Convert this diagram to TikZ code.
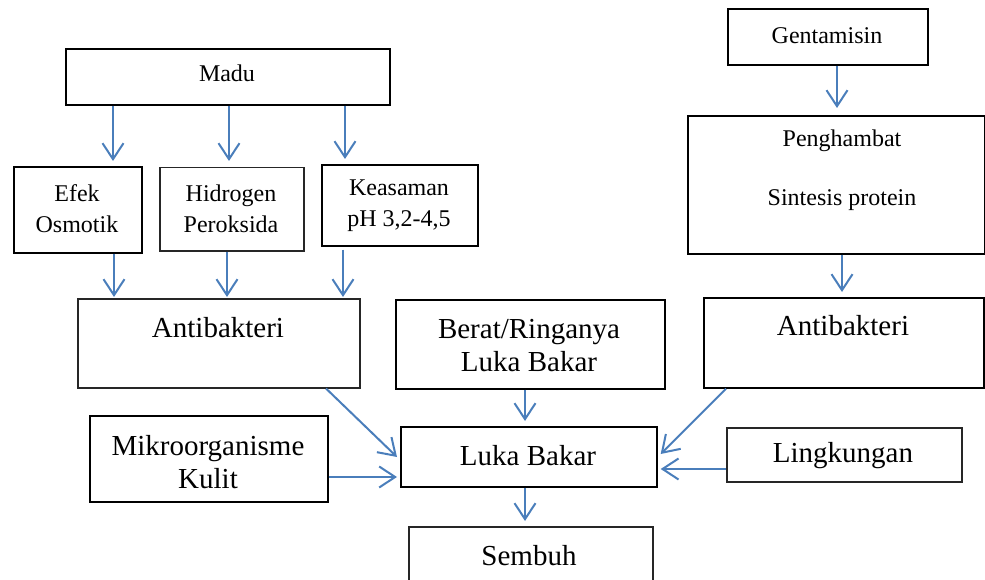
\documentclass[tikz,border=0pt]{standalone}
\usepackage{fontspec}
\setmainfont{Liberation Serif}
\usetikzlibrary{arrows.meta,calc}
\definecolor{arrblue}{HTML}{4A7EBB}
\tikzset{
  box/.style={draw=black,line width=1.7pt,rectangle,inner sep=0pt,anchor=north west},
  greybox/.style={box,draw=black!85,line width=1.5pt},
  small/.style={font=\fontsize{24}{31}\selectfont,align=center,inner sep=0pt},
  large/.style={font=\fontsize{29}{33}\selectfont,align=center,inner sep=0pt},
  arr/.style={draw=arrblue,line width=2pt,-{Straight Barb[length=16pt,width=21pt,line width=2pt]}}
}
\begin{document}
\begin{tikzpicture}[x=1pt,y=-1pt]
\useasboundingbox (0,0) rectangle (985,580);
\clip (0,0) rectangle (985,580);
% boxes
\node[box,minimum width=324pt,minimum height=56pt] (madu) at (65,48) {};
\node[box,minimum width=128pt,minimum height=86pt] (efek) at (13,166) {};
\node[greybox,minimum width=144pt,minimum height=83pt] (hidro) at (159,167) {};
\node[box,minimum width=156pt,minimum height=81pt] (asam) at (321,164) {};
\node[greybox,minimum width=282pt,minimum height=89pt] (antiL) at (77,298) {};
\node[box,minimum width=238pt,minimum height=86pt] (mikro) at (89,415) {};
\node[box,minimum width=269pt,minimum height=89pt] (berat) at (395,299) {};
\node[box,minimum width=256pt,minimum height=60pt] (luka) at (400,426) {};
\node[greybox,minimum width=244pt,minimum height=80pt] (sembuh) at (408,526) {};
\node[box,minimum width=200pt,minimum height=56pt] (genta) at (727,8) {};
\node[box,minimum width=297pt,minimum height=138pt] (hambat) at (687,115) {};
\node[box,minimum width=280pt,minimum height=90pt] (antiR) at (703,297) {};
\node[greybox,minimum width=235pt,minimum height=54pt] (lingk) at (726,427) {};
% texts
\node[small] (tmadu) at (227,73) {Madu};
\node[small] (tefek) at (77,209) {Efek\\Osmotik};
\node[small] (thidro) at (231,209) {Hidrogen\\Peroksida};
\node[small] (tasam) at (399,206) {Keasaman\\pH 3,2-4,5};
\node[small] (tgenta) at (827,36) {Gentamisin};
\node[small] (thambat1) at (842,141) {Penghambat};
\node[small] (thambat2) at (842,200) {Sintesis protein};
\node[large] (tantiL) at (218,328) {Antibakteri};
\node[large] (tantiR) at (843,326) {Antibakteri};
\node[large] (tberat) at (529,346) {Berat/Ringanya\\Luka Bakar};
\node[large] (tluka) at (528,456) {Luka Bakar};
\node[large] (tlingk) at (843,456) {Lingkungan};
\node[large] (tmikro) at (208,462) {Mikroorganisme\\Kulit};
\node[large] (tsembuh) at (529,556) {Sembuh};
% arrow columns
\coordinate (c1) at (113,0);
\coordinate (c2) at (229,0);
\coordinate (c3) at (345,0);
\coordinate (d1) at (114,0);
\coordinate (d2) at (227,0);
\coordinate (d3) at (343,0);
\coordinate (cg) at (837,0);
\coordinate (ch) at (842,0);
\coordinate (cm) at (525,0);
% arrows
\draw[arr] (madu.south -| c1) -- ($(efek.north -| c1)+(0,-5)$);
\draw[arr] (madu.south -| c2) -- ($(hidro.north -| c2)+(0,-6)$);
\draw[arr] (madu.south -| c3) -- ($(asam.north -| c3)+(0,-5)$);
\draw[arr] (efek.south -| d1) -- ($(antiL.north -| d1)+(0,-1)$);
\draw[arr] (hidro.south -| d2) -- ($(antiL.north -| d2)+(0,-1)$);
\draw[arr] ($(asam.south -| d3)+(0,3)$) -- ($(antiL.north -| d3)+(0,-1)$);
\draw[arr] (genta.south -| cg) -- ($(hambat.north -| cg)+(0,-7)$);
\draw[arr] (hambat.south -| ch) -- ($(antiR.north -| ch)+(0,-5)$);
\draw[arr] (berat.south -| cm) -- ($(luka.north -| cm)+(0,-5)$);
\draw[arr] (luka.south -| cm) -- ($(sembuh.north -| cm)+(0,-5)$);
\draw[arr] ($(antiL.south west)+(249,0)$) -- ($(luka.north west)+(-3,31)$);
\draw[arr] ($(mikro.north east)+(0,62)$) -- ($(luka.north west)+(-3,51)$);
\draw[arr] ($(antiR.south west)+(23,0)$) -- ($(luka.north east)+(3,28)$);
\draw[arr] ($(lingk.north west)+(0,42)$) -- ($(luka.north east)+(3,43)$);
\end{tikzpicture}
\end{document}
